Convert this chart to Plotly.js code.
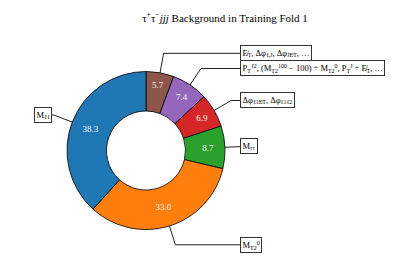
<!DOCTYPE html>
<html>
<head>
<meta charset="utf-8">
<script src="https://cdn.plot.ly/plotly-3.0.1.min.js"></script>
<style>html,body{margin:0;padding:0;background:#fff;}#chart{width:395px;height:263px;}</style>
</head>
<body>
<div id="chart"></div>
<script>
// Data (clockwise from 12 o'clock)
const sliceLabels = [
  "E̸<sub>T</sub>, Δφ<sub>ℓ,J</sub>, Δφ<sub>JE̸T</sub>, …",
  "P<sub>T</sub><sup>ℓ2</sup>, (M<sub>T2</sub><sup>100</sup> − 100) ÷ M<sub>T2</sub><sup>0</sup>, P<sub>T</sub><sup>J</sup> ÷ E̸<sub>T</sub>, …",
  "Δφ<sub>ℓ1E̸T</sub>, Δφ<sub>ℓ1ℓ2</sub>",
  "M<sub>ττ</sub>",
  "M<sub>T2</sub><sup>0</sup>",
  "M<sub>ℓℓ</sub>"
];
const sliceValues = [5.7, 7.4, 6.9, 8.7, 33.0, 38.3];
const sliceColors = ["#8c564b", "#9467bd", "#d62728", "#2ca02c", "#ff7f0e", "#1f77b4"];
const chartTitle = "τ<sup>+</sup>τ<sup>−</sup><i>jjj</i> Background in Training Fold 1";

const W = 395, H = 263;
const cx = 146, cy = 150.5, R = 79;
const FONT = "Liberation Serif, DejaVu Serif, serif";
const px = p => p / W;
const py = p => 1 - p / H;

const total = sliceValues.reduce((a, b) => a + b, 0);
const shapes = [];
const annotations = [];
let cum = 0;
sliceValues.forEach((v, i) => {
  const theta = (90 - (cum + v / 2) / total * 360) * Math.PI / 180;
  cum += v;
  const c = Math.cos(theta), s = Math.sin(theta);
  const sign = c >= 0 ? 1 : -1;
  const p1 = [cx + R * c, cy - R * s];
  const corner = [cx + 1.25 * R * c, cy - 1.25 * R * s];
  const endX = cx + sign * 1.19 * R;
  shapes.push({
    type: "path", xref: "paper", yref: "paper",
    path: `M ${px(p1[0])} ${py(p1[1])} L ${px(corner[0])} ${py(corner[1])} L ${px(endX)} ${py(corner[1])}`,
    line: {color: "#222", width: 1}, layer: "above"
  });
  annotations.push({
    xref: "paper", yref: "paper", x: px(endX), y: py(corner[1]),
    xanchor: sign > 0 ? "left" : "right", yanchor: "middle",
    text: sliceLabels[i], showarrow: false,
    font: {family: FONT, size: 8.5, color: "#000"},
    bgcolor: "#fff", bordercolor: "#333", borderwidth: 1, borderpad: 1.5
  });
});

const data = [{
  type: "pie",
  values: sliceValues,
  labels: sliceLabels,
  sort: false,
  direction: "clockwise",
  rotation: 0,
  hole: 0.5,
  marker: {colors: sliceColors, line: {color: "#000", width: 0.8}},
  texttemplate: "%{value:.1f}",
  textposition: "inside",
  insidetextorientation: "horizontal",
  textfont: {family: FONT, size: 9, color: "#f4f4f4"},
  showlegend: false,
  hoverinfo: "none",
  domain: {x: [px(cx - R), px(cx + R)], y: [py(cy + R), py(cy - R)]}
}];

const layout = {
  width: W, height: H,
  margin: {l: 0, r: 0, t: 0, b: 0},
  paper_bgcolor: "#fff",
  title: {text: chartTitle, x: 225 / W, xanchor: "center", y: py(18), yanchor: "middle",
          font: {family: FONT, size: 11, color: "#000"}},
  shapes: shapes,
  annotations: annotations,
  showlegend: false
};

Plotly.newPlot("chart", data, layout, {staticPlot: true, displayModeBar: false});
</script>
</body>
</html>
